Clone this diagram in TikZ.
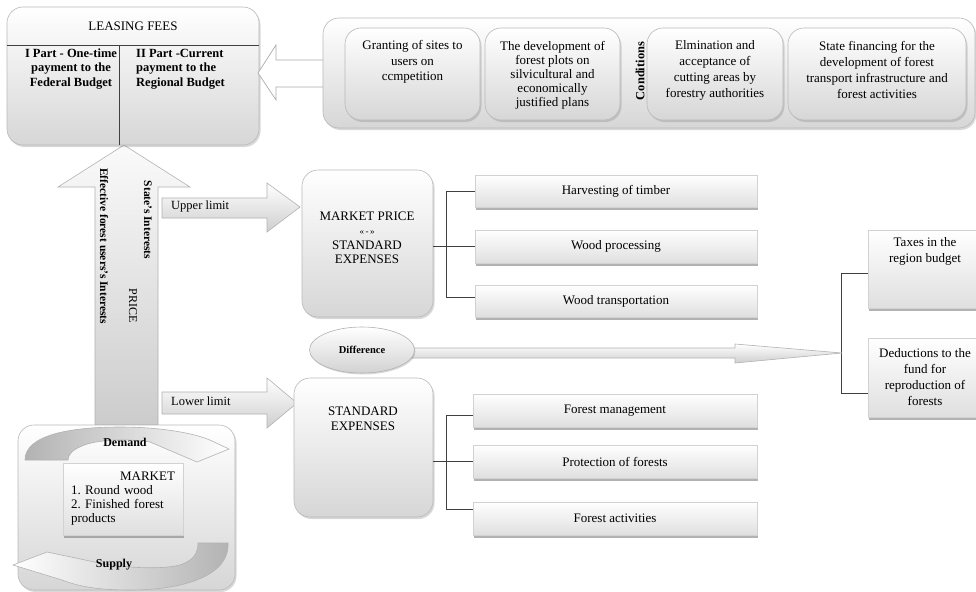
\documentclass[tikz,border=0pt]{standalone}
\usepackage{fontspec}
\setmainfont{Liberation Serif}
\usetikzlibrary{shadows,shapes.geometric}
\frenchspacing
\begin{document}
\begin{tikzpicture}[x=1pt,y=-1pt,
  txt/.style={font=\fontsize{13}{15.5}\selectfont, align=center, inner sep=0pt},
  btxt/.style={font=\fontsize{12.5}{14.5}\selectfont\bfseries, align=center, inner sep=0pt},
  rbox/.style={draw=gray!55, line width=0.6pt, rounded corners=16pt, top color=white, bottom color=gray!32, inner sep=0pt, drop shadow={shadow xshift=1.5pt, shadow yshift=-2pt, opacity=0.3}},
  sbox/.style={draw=gray!35, line width=0.5pt, top color=white, bottom color=gray!25, inner sep=0pt, drop shadow={shadow xshift=1.2pt, shadow yshift=-2.5pt, opacity=0.6}, font=\fontsize{13}{15.5}\selectfont, align=center},
  link/.style={draw=black!75, line width=0.8pt},
  barrow/.style={draw=gray!60, line width=0.6pt, top color=white, bottom color=gray!38},
]
\useasboundingbox (0,0) rectangle (976,591);
\clip (0,0) rectangle (976,591);
\fill[white] (0,0) rectangle (976,591);

% big vertical PRICE arrow
\path[draw=gray!60, line width=0.6pt, top color=gray!4, bottom color=gray!40] (95,425) -- (95,187) -- (58,187) -- (124,145) -- (190,187) -- (158,187) -- (158,425) -- cycle;

% leasing fees
\node[rbox, minimum width=252pt, minimum height=138pt] (lease) at (133,76) {};
\draw[link] ([yshift=31pt]lease.west) -- ([yshift=31pt]lease.east);
\draw[link] ([xshift=-14pt,yshift=31pt]lease.center) -- ([xshift=-14pt]lease.south);
\node[txt] (leaseT) at (133,26) {LEASING FEES};
\node[btxt] (part1) at (71,69) {I Part - One-time\\payment to the\\Federal Budget};
\node[btxt, align=left, anchor=west] (part2) at (136,69) {II Part -Current\\payment to the\\Regional Budget};

% hollow arrow from conditions
\path[draw=gray!65, line width=0.7pt, fill=white] (330,60) -- (276,60) -- (276,45) -- (258,73) -- (276,100) -- (276,87) -- (330,87) -- cycle;

% conditions
\node[rbox, minimum width=652pt, minimum height=110pt] (cond) at (649,73) {};
\node[rbox, minimum width=135pt, minimum height=92pt] (c1) at (412.5,74) {};
\node[rbox, minimum width=135pt, minimum height=92pt] (c2) at (552.5,74) {};
\node[rbox, minimum width=136pt, minimum height=92pt] (c3) at (715,74) {};
\node[rbox, minimum width=178pt, minimum height=92pt] (c4) at (877,74) {};
\node[txt] (c1t) at (412.5,62) {Granting of sites to\\users on\\ccmpetition};
\node[txt, font=\fontsize{13}{14}\selectfont] (c2t) at (552.5,75) {The development of\\forest plots on\\silvicultural and\\economically\\justified plans};
\node[txt, font=\fontsize{13}{16}\selectfont] (c3t) at (715,70) {Elmination and\\acceptance of\\cutting areas by\\forestry authorities};
\node[txt, font=\fontsize{13}{16}\selectfont] (c4t) at (877,70) {State financing for the\\development of forest\\transport infrastructure and\\forest activities};
\node[btxt, rotate=90] (condT) at (640,71) {Conditions};

% limit arrows
\path[barrow] (162,198) -- (267,198) -- (267,183) -- (300,207) -- (267,232) -- (267,218) -- (162,218) -- cycle;
\node[txt, anchor=west, font=\fontsize{12.5}{14}\selectfont] (ul) at (171,206) {Upper limit};
\path[barrow] (162,392) -- (267,392) -- (267,378) -- (297,403) -- (267,428) -- (267,414) -- (162,414) -- cycle;
\node[txt, anchor=west, font=\fontsize{12.5}{14}\selectfont] (ll) at (171,401) {Lower limit};

% vertical texts
\node[btxt, rotate=-90, font=\fontsize{11.5}{13}\selectfont\bfseries] (eff) at (104,246) {Effective forest users's Interests};
\node[btxt, rotate=-90, font=\fontsize{11.5}{13}\selectfont\bfseries] (state) at (148,220) {State's Interests};
\node[txt, rotate=-90, font=\fontsize{12}{13}\selectfont] (price) at (133,306) {PRICE};

% market price / standard expenses
\node[rbox, minimum width=131pt, minimum height=147pt] (mp) at (367.5,243.5) {};
\node[txt, font=\fontsize{13}{14.5}\selectfont] (mpt) at (367,238) {MARKET PRICE\\{\fontsize{9}{10}\selectfont «\,-\,»}\\STANDARD\\EXPENSES};
\node[rbox, minimum width=139pt, minimum height=139pt] (se) at (363.5,447.5) {};
\node[txt, font=\fontsize{13}{15}\selectfont] (set) at (363,419) {STANDARD\\EXPENSES};

% expense items
\node[sbox, minimum width=282pt, minimum height=32pt] (hv) at (616,191) {Harvesting of timber};
\node[sbox, minimum width=282pt, minimum height=33pt] (wp) at (616,246.5) {Wood processing};
\node[sbox, minimum width=282pt, minimum height=32pt] (wt) at (616,301) {Wood transportation};
\node[sbox, minimum width=284pt, minimum height=33pt] (fm) at (615,410.5) {Forest management};
\node[sbox, minimum width=284pt, minimum height=33pt] (pf) at (615,461.5) {Protection of forests};
\node[sbox, minimum width=284pt, minimum height=33pt] (fa) at (615,518.5) {Forest activities};

\draw[link] (mp.east |- wp.west) -- (wp.west);
\draw[link] (hv.west) -- ++(-28,0) |- ([yshift=4pt]wt.west);
\draw[link] (se.east |- pf.west) -- (pf.west);
\draw[link] ([yshift=-4.5pt]fm.west) -- ++(-26,0) |- ([yshift=9.5pt]fa.west);

% right boxes
\node[sbox, minimum width=114pt, minimum height=78pt] (tax) at (925,269) {};
\node[txt, font=\fontsize{13}{16}\selectfont] (taxT) at (925,251) {Taxes in the\\region budget};
\node[sbox, minimum width=114pt, minimum height=79pt, font=\fontsize{13}{16}\selectfont] (ded) at (925,377.5) {Deductions to the\\fund for\\reproduction of\\forests};
\draw[link] ([yshift=-4pt]tax.west) -- ++(-26,0) |- ([yshift=-15.5pt]ded.west);

% difference arrow
\path[barrow] (405,348) -- (735,348) -- (735,344) -- (842,353) -- (735,363) -- (735,358) -- (405,358) -- cycle;
\node[ellipse, draw=gray!60, line width=0.6pt, top color=white, bottom color=gray!35, minimum width=105pt, minimum height=46pt, inner sep=0pt, font=\fontsize{10.5}{12}\selectfont\bfseries, drop shadow={shadow xshift=1pt, shadow yshift=-1.5pt, opacity=0.3}] (diff) at (362,350) {Difference};

% market
\node[rbox, minimum width=217pt, minimum height=165pt] (mkt) at (126.5,507.5) {};
\path[draw=gray!60, line width=0.6pt, left color=gray!60, right color=white]
  (25,460) .. controls (25,435) and (70,427) .. (120,427) .. controls (160,427) and (195,433) .. (212,441)
  -- (229,449) -- (197,462) -- (150,442)
  .. controls (125,438) and (95,440) .. (82,446) .. controls (72,450) and (68,455) .. (68,460) -- cycle;
\node[btxt, font=\fontsize{12}{13}\selectfont\bfseries] (dem) at (125,442) {Demand};
\path[draw=gray!60, line width=0.6pt, left color=white, right color=gray!60]
  (228,543) .. controls (230,575) and (185,590) .. (130,590) .. controls (100,590) and (80,587) .. (62,580)
  -- (13,565) -- (47,552) -- (90,561)
  .. controls (120,568) and (160,570) .. (180,565) .. controls (195,560) and (198,552) .. (198,543) -- cycle;
\node[btxt, font=\fontsize{12}{13}\selectfont\bfseries] (sup) at (114,565) {Supply};
\node[sbox, minimum width=120pt, minimum height=72pt, text width=104pt, align=left, font=\fontsize{13}{14}\selectfont] (mkin) at (123,499) {\hspace*{\fill}MARKET\hspace*{\fill}\\1. Round wood\\2. Finished forest\\products};
\end{tikzpicture}
\end{document}
